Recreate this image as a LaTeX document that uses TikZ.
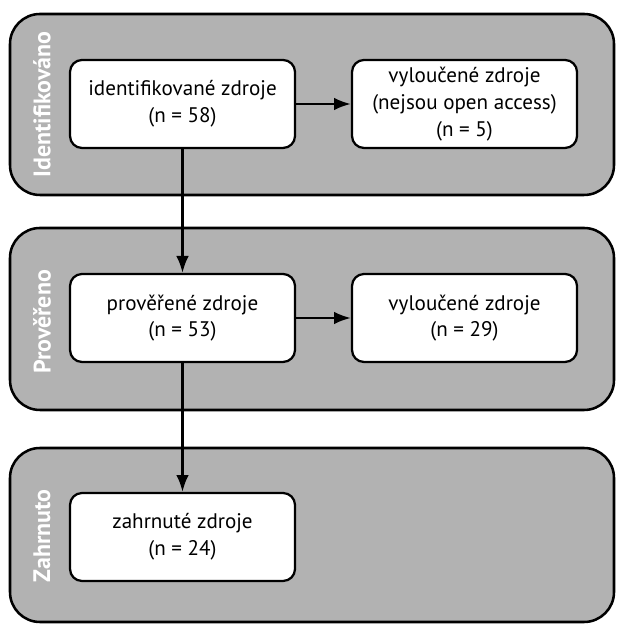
\documentclass[tikz,border=0pt]{standalone}
\usepackage{fontspec}
\setmainfont{PT Sans}
\usepackage{tikz}
\usetikzlibrary{arrows.meta}

\begin{document}
\begin{tikzpicture}[>={Latex[length=12pt,width=9pt]}]
  \tikzstyle{panel}=[draw, line width=1.8pt, fill=black!30, rounded corners=0.75cm,
    minimum width=15.1cm, inner sep=0pt]
  \tikzstyle{phase}=[rotate=90, text=white, font=\fontsize{17}{20}\selectfont\bfseries]
  \tikzstyle{box}=[draw, line width=1.6pt, fill=white, rounded corners=0.3cm,
    minimum width=5.625cm, minimum height=2.2cm, align=center,
    font=\fontsize{15}{19}\selectfont]
  \useasboundingbox (0,0) rectangle (15.4,15.6);
  % phases
  \node[panel, minimum height=4.525cm] (P_1) at (7.8,12.9875) {};
  \node[panel, minimum height=4.55cm]  (P_2) at (7.8,7.625) {};
  \node[panel, minimum height=4.35cm]  (P_3) at (7.8,2.225) {};
  \node[phase] (L_1) at (1.05,12.99) {Identifikováno};
  \node[phase] (L_2) at (1.05,7.55) {Prověřeno};
  \node[phase] (L_3) at (1.05,2.2) {Zahrnuto};
  % sources
  \node[box] (B_1) at (4.5625,13.0)  {identifikované zdroje\\(n = 58)};
  \node[box] (B_2) at (11.6125,13.0) {vyloučené zdroje\\(nejsou open access)\\(n = 5)};
  \node[box] (B_3) at (4.5625,7.65)  {prověřené zdroje\\(n = 53)};
  \node[box] (B_4) at (11.6125,7.65) {vyloučené zdroje\\(n = 29)};
  \node[box] (B_5) at (4.5625,2.175) {zahrnuté zdroje\\(n = 24)};
  \draw[->, line width=1.7pt] (B_1) -- (B_2);
  \draw[->, line width=1.7pt] (B_1) -- (B_3);
  \draw[->, line width=1.7pt] (B_3) -- (B_4);
  \draw[->, line width=1.7pt] (B_3) -- (B_5);
\end{tikzpicture}
\end{document}
